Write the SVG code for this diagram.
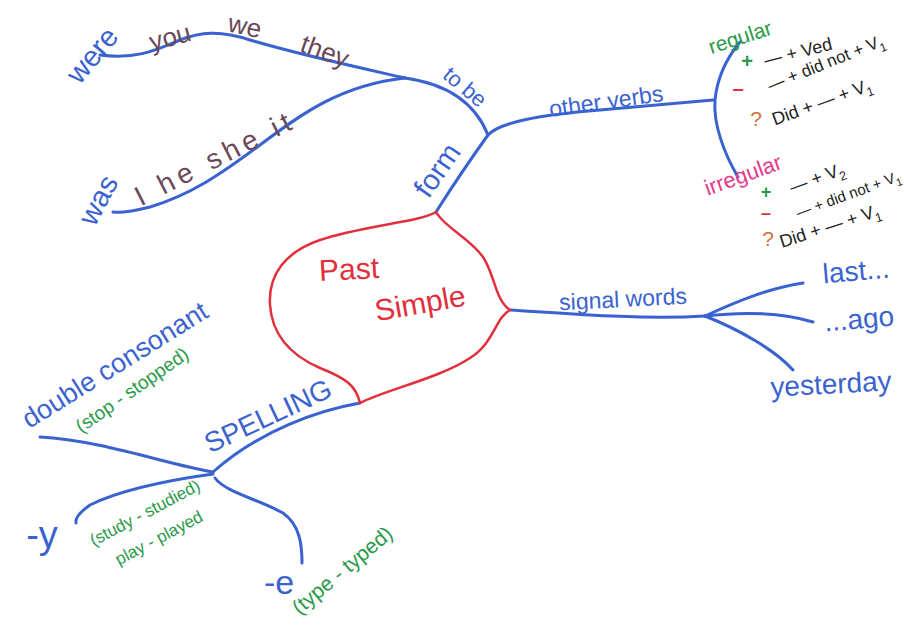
<svg xmlns="http://www.w3.org/2000/svg" width="904" height="633" viewBox="0 0 904 633">
<style>
text{font-family:"Liberation Sans","DejaVu Sans",sans-serif;text-anchor:middle;dominant-baseline:central}
.b{fill:#3b63d0}
.br{fill:#6a4858}
.g{fill:#2a9a4a}
.r{fill:#e0303e}
.pk{fill:#e8388a}
.o{fill:#d0703a}
.k{fill:#222}
.ln{fill:none;stroke:#3b63d0;stroke-width:3;stroke-linecap:round}
.sub{font-size:70%;baseline-shift:sub}
</style>
<rect width="904" height="633" fill="#fff"/>
<g id="connectors">
<path class="ln" d="M436,212 C450,190 470,160 488,135"/>
<path class="ln" d="M488,135 C478,110 455,85 405,78"/>
<path class="ln" d="M405,78 C370,70 300,55 250,40 C220,30 200,32 180,40 C160,48 140,60 100,55"/>
<path class="ln" d="M405,78 C340,85 300,115 260,145 C220,175 190,195 150,207 C130,212 120,213 113,212"/>
<path class="ln" d="M488,135 C500,122 540,115 600,110 L713,100"/>
<path class="ln" d="M740,42 C725,60 717,80 715,100 C713,125 725,155 738,177"/>
<path class="ln" d="M510,310 C560,313 640,320 705,316"/>
<path class="ln" d="M705,316 C740,300 770,288 803,283"/>
<path class="ln" d="M705,316 C740,312 780,312 813,322"/>
<path class="ln" d="M705,316 C740,330 775,350 793,370"/>
<path class="ln" d="M360,403 C320,410 260,430 213,472"/>
<path class="ln" d="M213,472 C170,465 100,440 40,437"/>
<path class="ln" d="M213,474 C170,480 120,490 90,505 C80,512 75,518 76,523"/>
<path class="ln" d="M215,478 C225,492 260,500 283,513 C300,525 302,545 302,563"/>
</g>
<g id="center">
<path d="M436,212 C420,222 360,226 320,240 C285,252 268,275 270,305 C272,335 290,355 320,368 C345,378 356,385 360,403 C385,390 440,378 470,358 C495,342 495,318 510,310 C495,300 495,275 483,257 C470,238 445,228 436,212 Z" fill="none" stroke="#e0303e" stroke-width="2.5"/>
<text class="r" font-size="30" transform="translate(349,269) rotate(-3)">Past</text>
<text class="r" font-size="30" transform="translate(420,303) rotate(-10)">Simple</text>
</g>
<g id="form"><text class="b" font-size="29" transform="translate(437,170) rotate(-55)">form</text></g>
<g id="tobe"><text class="b" font-size="22" transform="translate(465,87) rotate(40)">to be</text></g>
<g id="were"><text class="b" font-size="29" transform="translate(92,55) rotate(-50)">were</text></g>
<g id="you"><text class="br" font-size="26" transform="translate(170,37) rotate(-15)">you</text></g>
<g id="we"><text class="br" font-size="26" transform="translate(245,26) rotate(12)">we</text></g>
<g id="they"><text class="br" font-size="26" transform="translate(325,51) rotate(20)">they</text></g>
<g id="was"><text class="b" font-size="29" transform="translate(98,200) rotate(-62)">was</text></g>
<g id="iheshe"><text class="br" font-size="28" letter-spacing="5" transform="translate(215,158) rotate(-27)">I he she it</text></g>
<g id="otherverbs"><text class="b" font-size="23" transform="translate(606,101) rotate(-8)">other verbs</text></g>
<g id="regular">
<text class="g" font-size="21" transform="translate(740,37) rotate(-18)">regular</text>
<text class="g" font-size="20" font-weight="bold" x="747" y="61">+</text>
<text class="k" font-size="18" transform="translate(798,52) rotate(-14)">— + Ved</text>
<text class="r" font-size="20" font-weight="bold" x="738" y="88">–</text>
<text class="k" font-size="17" transform="translate(826,63) rotate(-22)">— + did not + V<tspan class="sub">1</tspan></text>
<text class="o" font-size="21" x="756" y="118">?</text>
<text class="k" font-size="18" transform="translate(822,102) rotate(-20)">Did + — + V<tspan class="sub">1</tspan></text>
</g>
<g id="irregular">
<text class="pk" font-size="22" transform="translate(743,175) rotate(-20)">irregular</text>
<text class="g" font-size="18" font-weight="bold" x="766" y="192">+</text>
<text class="k" font-size="18" transform="translate(817,178) rotate(-20)">— + V<tspan class="sub">2</tspan></text>
<text class="r" font-size="18" font-weight="bold" x="766" y="213">–</text>
<text class="k" font-size="15" transform="translate(848,194) rotate(-20)">— + did not + V<tspan class="sub">1</tspan></text>
<text class="o" font-size="21" x="768" y="238">?</text>
<text class="k" font-size="18" transform="translate(830,226) rotate(-18)">Did + — + V<tspan class="sub">1</tspan></text>
</g>
<g id="signalwords"><text class="b" font-size="23" transform="translate(623,299) rotate(-3)">signal words</text></g>
<g id="last"><text class="b" font-size="28" transform="translate(856,271) rotate(-5)">last...</text></g>
<g id="ago"><text class="b" font-size="28" transform="translate(859,319) rotate(-5)">...ago</text></g>
<g id="yesterday"><text class="b" font-size="28" transform="translate(831,384) rotate(-3)">yesterday</text></g>
<g id="spelling"><text class="b" font-size="28" transform="translate(268,416) rotate(-25)">SPELLING</text></g>
<g id="double">
<text class="b" font-size="27" transform="translate(115,365) rotate(-32)">double consonant</text>
<text class="g" font-size="19" transform="translate(132,390) rotate(-35)">(stop - stopped)</text>
</g>
<g id="y">
<text class="b" font-size="38" x="42" y="535">-y</text>
<text class="g" font-size="17" transform="translate(145,513) rotate(-28)">(study - studied)</text>
<text class="g" font-size="17" transform="translate(159,538) rotate(-28)">play - played</text>
</g>
<g id="e">
<text class="b" font-size="34" x="279" y="582">-e</text>
<text class="g" font-size="21" transform="translate(342,570) rotate(-40)">(type - typed)</text>
</g>
</svg>
